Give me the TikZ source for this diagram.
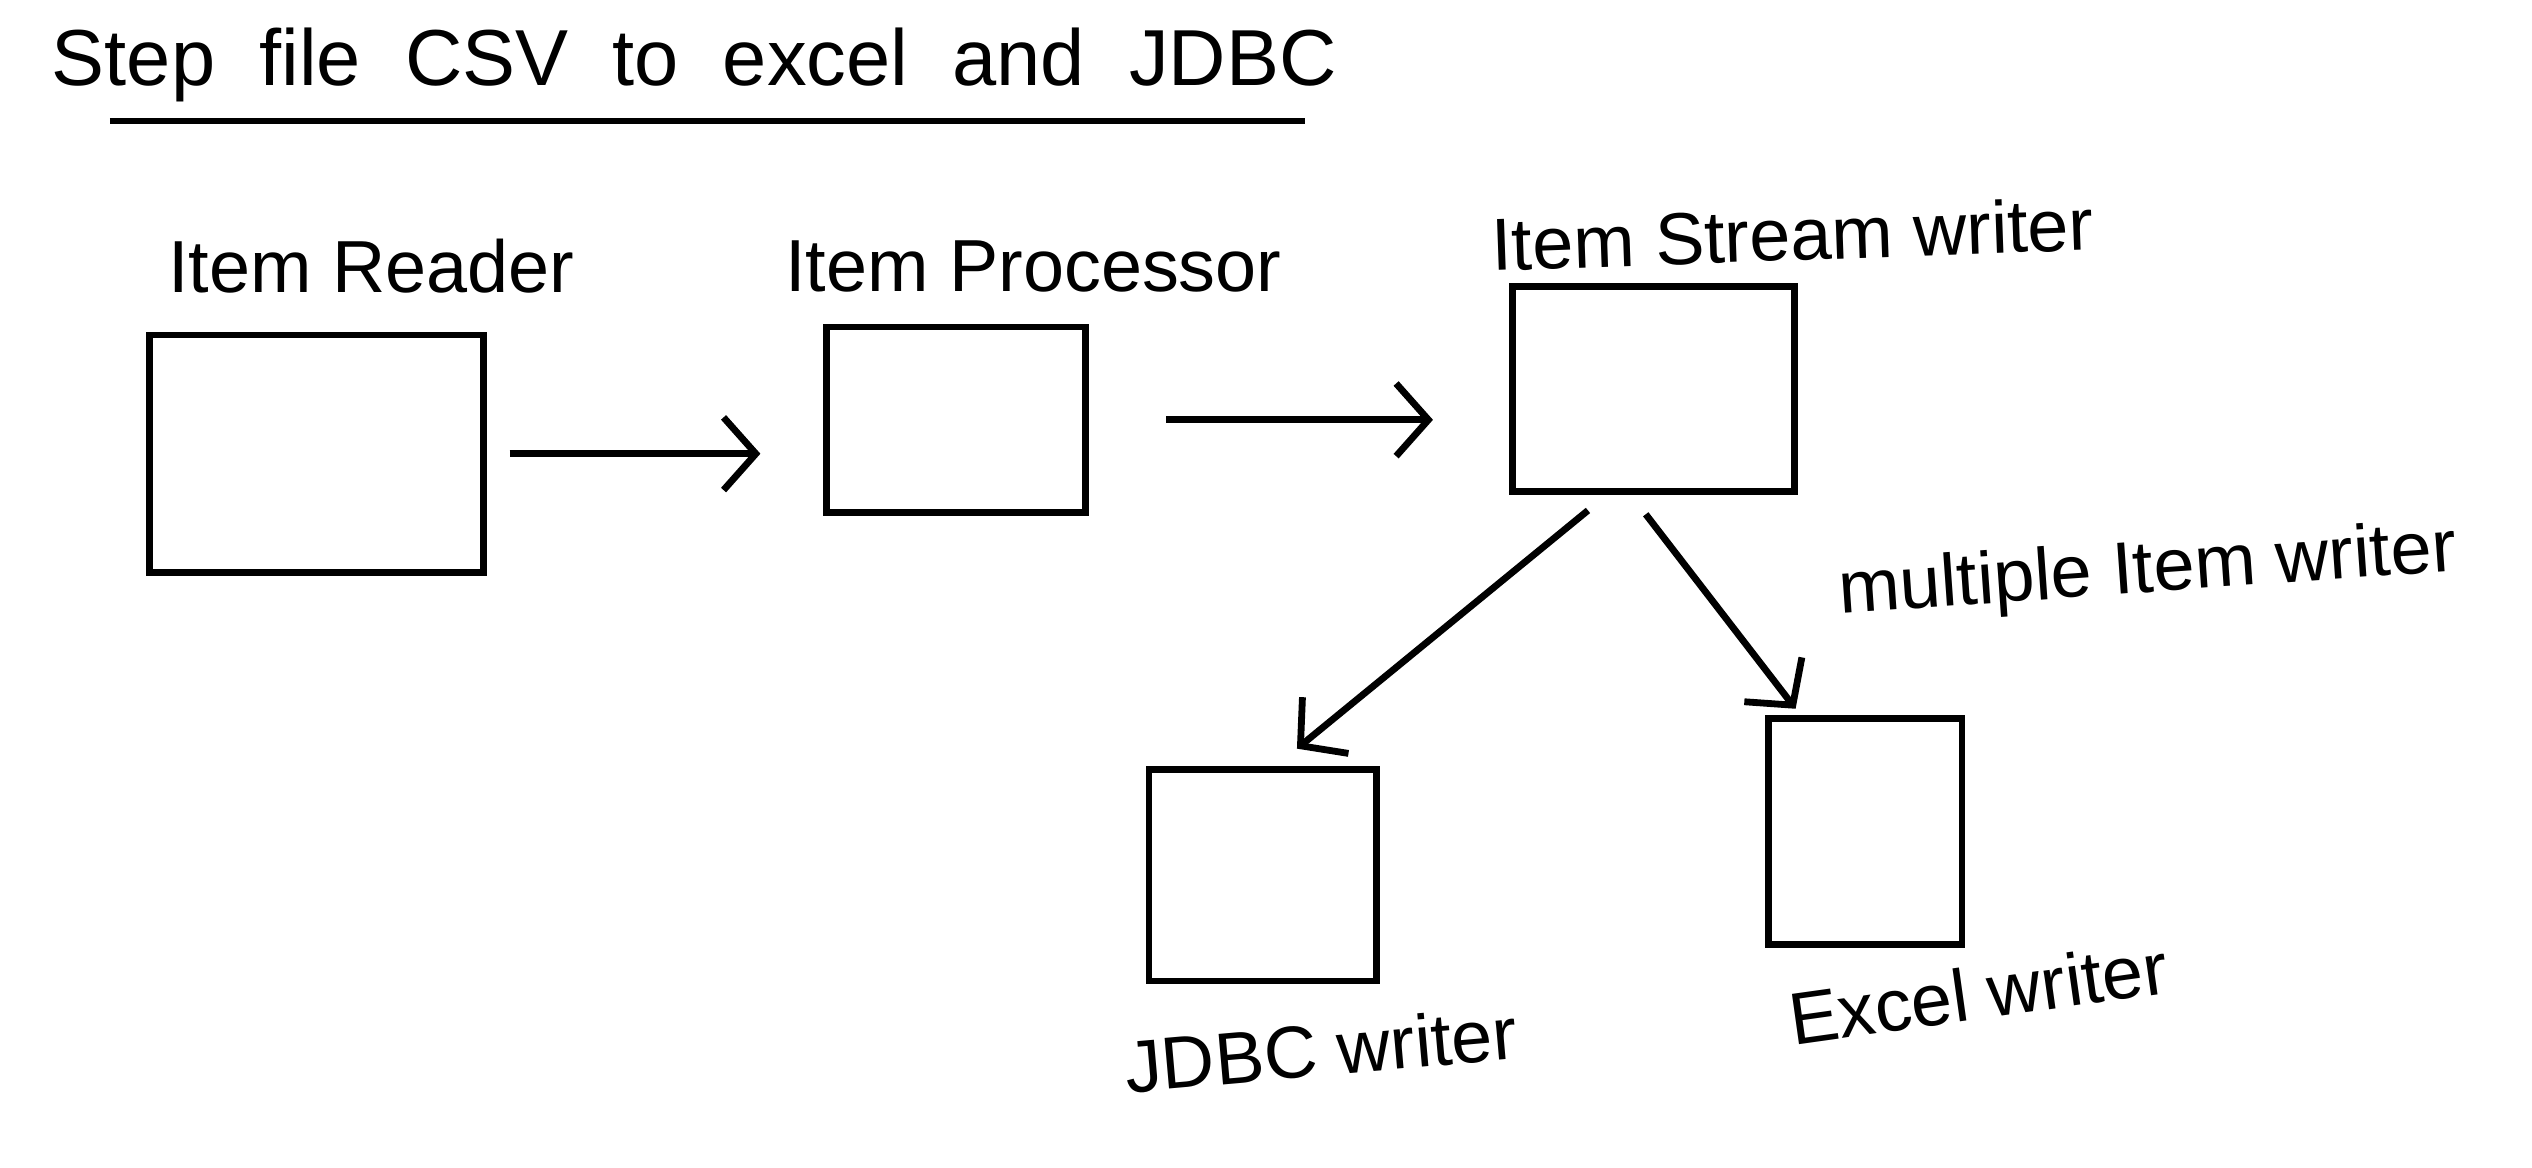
\documentclass[tikz,border=0pt]{standalone}
\usepackage{fontspec}
\setmainfont{Liberation Sans}
\usetikzlibrary{arrows.meta}

\begin{document}
\begin{tikzpicture}[line width=1.2pt,
	box/.style={draw, minimum width=#1},
	flow/.style={-{Straight Barb[length=2mm,width=4.5mm]}},
	lbl/.style={font=\fontsize{13}{15}\selectfont}]
\useasboundingbox (0,0) rectangle (15.68,-7.23);

% titre
\node[font=\fontsize{14}{16}\selectfont] (title) at (4.30,-0.40) {Step\ \ file\ \ CSV\ \ to\ \ excel\ \ and\ \ JDBC};
\draw (0.68,-0.75) -- (8.08,-0.75);

% les blocs
\node[box=2.07cm, minimum height=1.47cm] (reader) at (1.96,-2.81) {};
\node[box=1.60cm, minimum height=1.15cm] (processor) at (5.92,-2.60) {};
\node[box=1.75cm, minimum height=1.27cm] (stream) at (10.24,-2.41) {};
\node[box=1.41cm, minimum height=1.31cm] (jdbc) at (7.82,-5.42) {};
\node[box=1.20cm, minimum height=1.40cm] (excel) at (11.55,-5.15) {};

% textes
\node[lbl] (readerlbl) at (2.30,-1.65) {Item Reader};
\node[lbl] (processorlbl) at (6.40,-1.65) {Item Processor};
\node[lbl, rotate=2] (streamlbl) at (11.10,-1.45) {Item Stream writer};
\node[lbl, rotate=4] (multilbl) at (13.30,-3.55) {multiple Item writer};
\node[lbl, rotate=5] (jdbclbl) at (8.18,-6.50) {JDBC writer};
\node[lbl, rotate=8] (excellbl) at (12.25,-6.15) {Excel writer};

% fleches
\draw[flow, shorten <=1.4mm, shorten >=3.9mm] (reader.east) -- (reader.east -| processor.west);
\draw[flow, shorten <=4.8mm, shorten >=4.7mm] (processor.east) -- (processor.east -| stream.west);
\draw[flow, shorten <=1.5mm, shorten >=1.7mm] ([xshift=-2.9mm]stream.south) -- ([xshift=0.8mm]jdbc.north);
\draw[flow, shorten <=1.5mm, shorten >=0.5mm] ([xshift=-1.4mm]stream.south) -- ([xshift=-4mm]excel.north);

\end{tikzpicture}
\end{document}
